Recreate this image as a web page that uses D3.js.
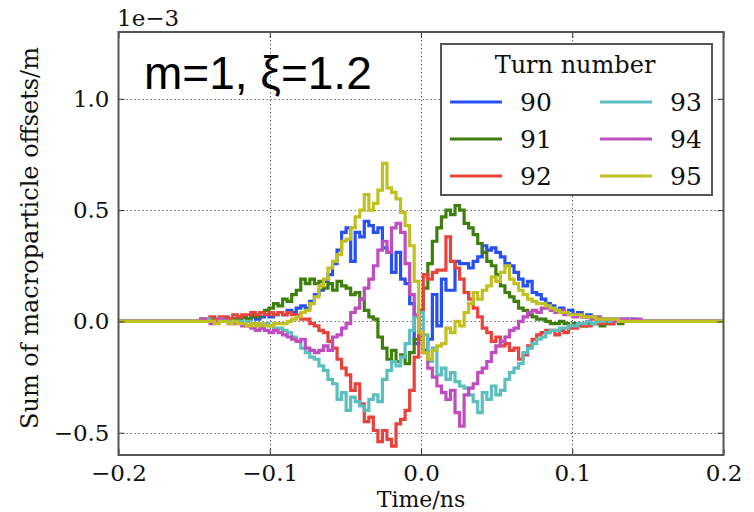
<!DOCTYPE html>
<html>
<head>
<meta charset="utf-8">
<script src="https://cdn.jsdelivr.net/npm/d3@7/dist/d3.min.js"></script>
<style>
  html, body { margin: 0; padding: 0; background: #fff; }
  svg { display: block; }
</style>
</head>
<body>
<svg id="chart" width="754" height="512"></svg>
<script>
// Bunch sum of macroparticle offsets (units of 1e-3 m), sampled in time bins
const binStart = -0.150;   // ns, centre of first bin
const binWidth = 0.003;    // ns
const timeDomain = [-0.2, 0.2];
const valueDomain = [-0.6, 1.3];

const xTicks = [-0.2, -0.1, 0.0, 0.1, 0.2];
const yTicks = [-0.5, 0.0, 0.5, 1.0];

const turns = ["90", "91", "92", "93", "94", "95"];
const turnColors = ["#2650f2", "#3f7f0e", "#e8423b", "#5cbfbf", "#c04cc0", "#c0c020"];

const turn90 = [
  0, 0, 0.01, 0, 0.01, 0, 0.01, 0.01, 0, 0.01,
  0.01, 0.02, 0.01, 0.02, 0.01, 0.02, 0.03, 0.02, 0.03, 0.04,
  0.03, 0.05, 0.04, 0.06, 0.07, 0.06, 0.09, 0.12, 0.14, 0.18,
  0.21, 0.26, 0.32, 0.40, 0.42, 0.27, 0.40, 0.38, 0.45, 0.43,
  0.40, 0.42, 0.33, 0.31, 0.22, 0.31, 0.19, 0.17, 0.08, -0.10,
  -0.05, -0.13, -0.08, 0.12, -0.02, 0.19, 0.14, 0.14, 0.27, 0.26,
  0.26, 0.24, 0.27, 0.29, 0.34, 0.32, 0.33, 0.31, 0.29, 0.26,
  0.25, 0.22, 0.19, 0.16, 0.18, 0.13, 0.12, 0.10, 0.08, 0.07,
  0.05, 0.06, 0.04, 0.05, 0.03, 0.04, 0.02, 0.03, 0.02, 0.01,
  0.01, 0.01, 0, 0.01, 0, 0, 0.01, 0, 0, 0, 0
];
const turn91 = [
  0, 0, 0, 0, 0.01, 0, 0.01, 0, 0.01, 0.01,
  0.01, 0.02, 0.01, 0.03, 0.02, 0.04, 0.05, 0.06, 0.08, 0.07,
  0.10, 0.09, 0.12, 0.14, 0.19, 0.17, 0.19, 0.17, 0.18, 0.15,
  0.17, 0.14, 0.18, 0.16, 0.15, 0.12, 0.13, 0.10, 0.05, 0.02,
  0.01, -0.07, -0.12, -0.17, -0.13, -0.18, -0.15, -0.19, -0.14, -0.08,
  0.05, 0.15, 0.26, 0.36, 0.42, 0.47, 0.50, 0.48, 0.52, 0.50,
  0.44, 0.42, 0.39, 0.35, 0.31, 0.27, 0.25, 0.21, 0.16, 0.13,
  0.11, 0.09, 0.06, 0.05, 0.03, 0.02, 0.01, 0.01, 0, -0.01,
  -0.01, 0, -0.01, -0.02, -0.01, -0.01, -0.02, -0.01, -0.01, -0.01,
  -0.02, -0.01, -0.01, 0, -0.01, 0, 0, 0, 0, 0, 0
];
const turn92 = [
  0, 0, 0.01, 0.01, 0.02, 0.01, 0.02, 0.02, 0.01, 0.03,
  0.02, 0.03, 0.03, 0.04, 0.03, 0.04, 0.03, 0.04, 0.03, 0.04,
  0.03, 0.04, 0.03, 0.03, 0.01, 0.01, -0.01, -0.02, -0.04, -0.05,
  -0.09, -0.12, -0.17, -0.21, -0.24, -0.31, -0.28, -0.37, -0.45, -0.43,
  -0.49, -0.54, -0.49, -0.53, -0.56, -0.46, -0.44, -0.40, -0.31, -0.16,
  0.05, 0.21, 0.19, 0.22, 0.23, 0.23, 0.38, 0.27, 0.24, 0.19,
  0.13, 0.10, 0.06, 0.02, -0.03, -0.05, -0.09, -0.07, -0.11, -0.10,
  -0.13, -0.12, -0.17, -0.15, -0.11, -0.08, -0.06, -0.05, -0.04, -0.04,
  -0.06, -0.04, -0.05, -0.03, -0.03, -0.02, -0.02, -0.02, -0.01, -0.01,
  -0.01, 0, -0.01, 0, 0, 0, 0, 0, 0, 0, 0
];
const turn93 = [
  0, 0, 0, 0.01, 0, 0, 0.01, 0, 0, 0,
  0, -0.01, 0, -0.01, -0.01, -0.02, -0.01, -0.02, -0.03, -0.03,
  -0.04, -0.05, -0.07, -0.09, -0.12, -0.14, -0.16, -0.17, -0.20, -0.22,
  -0.26, -0.28, -0.35, -0.32, -0.40, -0.34, -0.36, -0.38, -0.40, -0.35,
  -0.33, -0.36, -0.26, -0.22, -0.18, -0.20, -0.16, -0.10, -0.04, 0.02,
  0.04, -0.06, -0.18, -0.12, -0.24, -0.21, -0.26, -0.23, -0.27, -0.29,
  -0.30, -0.33, -0.36, -0.41, -0.32, -0.35, -0.29, -0.33, -0.31, -0.26,
  -0.23, -0.21, -0.19, -0.14, -0.12, -0.10, -0.08, -0.07, -0.05, -0.04,
  -0.04, -0.03, -0.03, -0.02, -0.02, -0.01, -0.01, 0, -0.01, 0,
  0, 0.01, 0, 0, 0.01, 0, 0.01, 0.01, 0, 0, 0
];
const turn94 = [
  0, 0, 0.01, 0, -0.01, 0, 0.01, 0, -0.01, -0.01,
  -0.01, -0.02, -0.02, -0.03, -0.04, -0.03, -0.04, -0.05, -0.04, -0.05,
  -0.06, -0.07, -0.08, -0.09, -0.08, -0.12, -0.13, -0.14, -0.13, -0.11,
  -0.13, -0.07, -0.06, -0.03, -0.01, 0.04, 0.06, 0.10, 0.15, 0.19,
  0.25, 0.32, 0.36, 0.31, 0.42, 0.44, 0.40, 0.26, 0.12, 0.03,
  -0.05, -0.14, -0.21, -0.25, -0.29, -0.32, -0.35, -0.31, -0.41, -0.47,
  -0.33, -0.30, -0.28, -0.23, -0.21, -0.18, -0.14, -0.11, -0.09, -0.07,
  -0.04, -0.03, 0.00, 0.02, 0.04, 0.05, 0.04, 0.06, 0.06, 0.05,
  0.04, 0.05, 0.03, 0.03, 0.02, 0.03, 0.02, 0.02, 0.01, 0.02,
  0.01, 0.01, 0.01, 0, 0.01, 0.01, 0, 0.01, 0.01, 0, 0
];
const turn95 = [
  0, 0, 0, 0, 0, -0.01, 0, 0, -0.01, 0,
  -0.01, -0.01, -0.02, -0.01, -0.02, -0.01, -0.02, -0.02, -0.01, -0.01,
  -0.01, 0.00, 0.01, 0.02, 0.04, 0.05, 0.08, 0.11, 0.16, 0.19,
  0.24, 0.27, 0.30, 0.36, 0.37, 0.42, 0.47, 0.50, 0.57, 0.50,
  0.53, 0.59, 0.71, 0.60, 0.58, 0.55, 0.49, 0.43, 0.34, 0.18,
  -0.05, -0.14, -0.17, -0.13, -0.11, -0.10, -0.03, -0.05, 0.00, -0.02,
  0.04, 0.08, 0.13, 0.10, 0.14, 0.16, 0.20, 0.18, 0.22, 0.25,
  0.19, 0.17, 0.14, 0.12, 0.10, 0.09, 0.08, 0.08, 0.07, 0.06,
  0.05, 0.04, 0.04, 0.03, 0.03, 0.03, 0.02, 0.02, 0.02, 0.01,
  0.01, 0.01, 0.01, 0.01, 0, 0, 0, 0, 0, 0, 0
];
const seriesValues = [turn90, turn91, turn92, turn93, turn94, turn95];

// ---- layout ----
const svg = d3.select("#chart");
const plot = { left: 118.5, right: 723.5, top: 32, bottom: 455 };
const serif = "'DejaVu Serif', serif";

const x = d3.scaleLinear().domain(timeDomain).range([plot.left, plot.right]);
const y = d3.scaleLinear().domain(valueDomain).range([plot.bottom, plot.top]);

svg.append("clipPath").attr("id", "plot-clip")
  .append("rect")
  .attr("x", plot.left).attr("y", plot.top)
  .attr("width", plot.right - plot.left).attr("height", plot.bottom - plot.top);

// dotted grid
const grid = svg.append("g").attr("stroke", "#555").attr("stroke-width", 1)
  .attr("stroke-dasharray", "1.3,2.7");
grid.selectAll(".gx").data(xTicks.slice(1, -1)).join("line")
  .attr("x1", d => Math.round(x(d)) + 0.5).attr("x2", d => Math.round(x(d)) + 0.5)
  .attr("y1", plot.top).attr("y2", plot.bottom);
grid.selectAll(".gy").data(yTicks).join("line")
  .attr("y1", d => Math.round(y(d)) + 0.5).attr("y2", d => Math.round(y(d)) + 0.5)
  .attr("x1", plot.left).attr("x2", plot.right);

// step traces, one per turn
const line = d3.line()
  .x(d => x(d.t))
  .y(d => y(d.v))
  .curve(d3.curveStep);

const traces = svg.append("g").attr("clip-path", "url(#plot-clip)");
seriesValues.forEach((vals, k) => {
  const pts = [{ t: timeDomain[0], v: 0 }]
    .concat(vals.map((v, i) => ({ t: binStart + i * binWidth, v })))
    .concat([{ t: timeDomain[1], v: 0 }]);
  traces.append("path")
    .datum(pts)
    .attr("fill", "none")
    .attr("stroke", turnColors[k])
    .attr("stroke-width", 3.2)
    .attr("stroke-linejoin", "miter")
    .attr("d", line);
});

// axes with inward ticks on all four sides
const fmt = d3.format(".1f");
function styleAxis(g) {
  g.select(".domain").remove();
  g.selectAll(".tick line").attr("stroke", "#333").attr("stroke-width", 1);
  g.selectAll("text").attr("font-family", serif).attr("font-size", 23).attr("fill", "#111");
}
svg.append("g").attr("transform", `translate(0,${plot.bottom})`)
  .call(d3.axisBottom(x).tickValues(xTicks).tickFormat(fmt).tickSize(-6).tickPadding(9.5))
  .call(styleAxis);
svg.append("g").attr("transform", `translate(0,${plot.top})`)
  .call(d3.axisTop(x).tickValues(xTicks).tickFormat("").tickSize(-6))
  .call(styleAxis);
svg.append("g").attr("transform", `translate(${plot.left},0)`)
  .call(d3.axisLeft(y).tickValues(yTicks).tickFormat(fmt).tickSize(-6).tickPadding(9))
  .call(styleAxis);
svg.append("g").attr("transform", `translate(${plot.right},0)`)
  .call(d3.axisRight(y).tickValues(yTicks).tickFormat("").tickSize(-6))
  .call(styleAxis);

// frame
svg.append("rect")
  .attr("x", plot.left).attr("y", plot.top)
  .attr("width", plot.right - plot.left).attr("height", plot.bottom - plot.top)
  .attr("fill", "none").attr("stroke", "#555").attr("stroke-width", 2);

// offset / scale text and axis titles
svg.append("text").attr("x", 117).attr("y", 26)
  .attr("font-family", serif).attr("font-size", 23).attr("fill", "#111")
  .text("1e\u22123");
svg.append("text").attr("x", (plot.left + plot.right) / 2).attr("y", 507)
  .attr("text-anchor", "middle")
  .attr("font-family", serif).attr("font-size", 22).attr("fill", "#111")
  .text("Time/ns");
svg.append("text")
  .attr("transform", "translate(38,238) rotate(-90)")
  .attr("text-anchor", "middle")
  .attr("font-family", serif).attr("font-size", 24).attr("fill", "#111")
  .text("Sum of macroparticle offsets/m");

svg.append("text").attr("x", 144).attr("y", 89)
  .attr("font-family", "'Liberation Sans', Arial, sans-serif").attr("font-size", 46).attr("fill", "#000")
  .text("m=1, \u03be=1.2");

// legend
const leg = svg.append("g");
leg.append("rect")
  .attr("x", 441).attr("y", 44).attr("width", 271).attr("height", 151)
  .attr("fill", "#fff").attr("stroke", "#555").attr("stroke-width", 2);
leg.append("text").attr("x", 575).attr("y", 73)
  .attr("text-anchor", "middle")
  .attr("font-family", serif).attr("font-size", 24).attr("fill", "#111")
  .text("Turn number");
turns.forEach((name, k) => {
  const col = Math.floor(k / 3), row = k % 3;
  const lx = col === 0 ? 450 : 600;
  const ly = 102 + row * 37;
  leg.append("line")
    .attr("x1", lx).attr("x2", lx + 52)
    .attr("y1", ly).attr("y2", ly)
    .attr("stroke", turnColors[k]).attr("stroke-width", 3);
  leg.append("text")
    .attr("x", col === 0 ? 520 : 670).attr("y", ly + 9)
    .attr("font-family", serif).attr("font-size", 25).attr("fill", "#111")
    .text(name);
});
</script>
</body>
</html>
